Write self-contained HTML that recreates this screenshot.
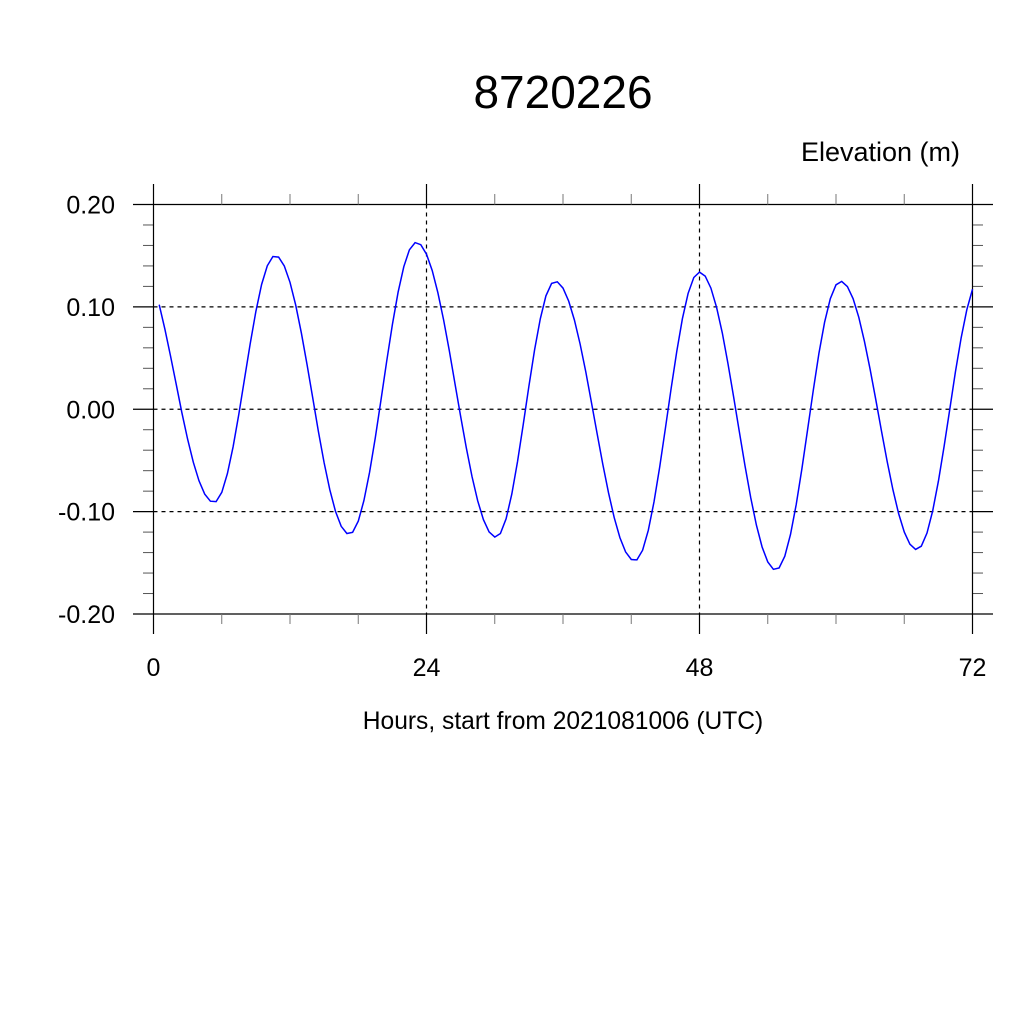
<!DOCTYPE html>
<html><head><style>body{margin:0;background:#fff}svg text{font-family:"Liberation Sans",sans-serif}</style></head>
<body>
<svg id="s" width="1024" height="1024" xmlns="http://www.w3.org/2000/svg">
<rect width="1024" height="1024" fill="#fff"/>
<text x="563" y="108" font-size="46" text-anchor="middle">8720226</text>
<text x="960" y="161" font-size="27" text-anchor="end">Elevation (m)</text>
<text x="563" y="729" font-size="24.6" text-anchor="middle">Hours, start from 2021081006 (UTC)</text>
<g id="g"></g>
</svg>
<script>
var g=document.getElementById('g'),h='';
function X(t){return 153.5+t*11.375}
function Y(v){return 409.25-v*1023.75}
for(var i=-2;i<=2;i++){var y=Y(i/10);
 h+='<line x1="133" x2="153.5" y1="'+y+'" y2="'+y+'" stroke="#000" stroke-width="1.2"/>';
 h+='<line x1="972.5" x2="993" y1="'+y+'" y2="'+y+'" stroke="#000" stroke-width="1.2"/>';
 h+='<line x1="153.5" x2="972.5" y1="'+y+'" y2="'+y+'" stroke="#000" stroke-width="1.2" stroke-dasharray="'+((i==2||i==-2)?'none':'4,4')+'"/>';
 h+='<text x="115" y="'+(y+9)+'" font-size="25" text-anchor="end">'+(i<0?'-':'')+Math.abs(i/10).toFixed(2)+'</text>';}
for(var i=-20;i<=20;i+=2){if(i%10==0)continue;var y=Y(i/100);
 h+='<line x1="143" x2="153.5" y1="'+y+'" y2="'+y+'" stroke="#555"/><line x1="972.5" x2="983" y1="'+y+'" y2="'+y+'" stroke="#555"/>';}
for(var t=0;t<=72;t+=24){var x=X(t);
 h+='<line x1="'+x+'" x2="'+x+'" y1="184" y2="204.5" stroke="#000" stroke-width="1.2"/><line x1="'+x+'" x2="'+x+'" y1="614" y2="634" stroke="#000" stroke-width="1.2"/>';
 h+='<line x1="'+x+'" x2="'+x+'" y1="204.5" y2="614" stroke="#000" stroke-width="1.2" stroke-dasharray="'+((t==0||t==72)?'none':'4,4')+'"/>';
 h+='<text x="'+x+'" y="676" font-size="25" text-anchor="middle">'+t+'</text>';}
for(var t=6;t<72;t+=6){if(t%24==0)continue;var x=X(t);
 h+='<line x1="'+x+'" x2="'+x+'" y1="194" y2="204.5" stroke="#777"/><line x1="'+x+'" x2="'+x+'" y1="614" y2="624" stroke="#777"/>';}
var e=[[-1.5,0.15],[5.3,-0.091],[10.7,0.15],[17.2,-0.122],[23.1,0.163],[30.1,-0.125],[35.3,0.125],[42.3,-0.148],[48,0.134],[54.7,-0.157],[60.4,0.125],[67.1,-0.137],[72.8,0.13]];
var pts=[];
for(var t=0.5;t<=72.01;t+=0.5){for(var k=0;k<e.length-1;k++)if(t>=e[k][0]&&t<=e[k+1][0])break;
 var a=e[k],b=e[k+1],f=(t-a[0])/(b[0]-a[0]),v=a[1]+(b[1]-a[1])*(1-Math.cos(Math.PI*f))/2;
 pts.push(X(t).toFixed(1)+','+Y(v).toFixed(1));}
h+='<polyline points="'+pts.join(' ')+'" fill="none" stroke="#0000ff" stroke-width="1.5"/>';
g.innerHTML=h;
</script>
</body></html>
